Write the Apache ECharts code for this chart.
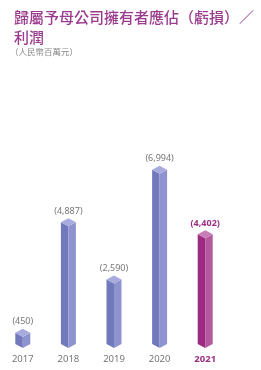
<!DOCTYPE html>
<html>
<head>
<meta charset="utf-8">
<script src="https://cdn.jsdelivr.net/npm/echarts@6/dist/echarts.min.js"></script>
<style>html,body{margin:0;padding:0;background:#fff}#c{width:261px;height:370px}</style>
</head>
<body>
<div id="c"></div>
<script>
var years = ['2017', '2018', '2019', '2020', '2021'];
var values = [450, 4887, 2590, 6994, 4402];
var valueLabels = ['(450)', '(4,887)', '(2,590)', '(6,994)', '(4,402)'];
var highlightIndex = 4;

var blue = {left: '#7178bb', right: '#8e93cf', top: '#a7abdd'};
var mag = {left: '#9c2a80', right: '#b4599d', top: '#c77db6'};

var chart = echarts.init(document.getElementById('c'), null, {renderer: 'canvas'});
var font = '"Noto Sans", "Noto Sans CJK TC", sans-serif';
chart.setOption({
  animation: false,
  title: [{
    text: '歸屬予母公司擁有者應佔（虧損）／\n利潤',
    left: 9, top: 2,
    textStyle: {fontFamily: '"Noto Sans CJK TC"', fontSize: 15, fontWeight: 500, color: '#9b3b8e', lineHeight: 20}
  }, {
    text: '（人民幣百萬元）',
    left: 5, top: 43,
    textStyle: {fontFamily: '"Noto Sans CJK TC"', fontSize: 8.5, fontWeight: 'normal', color: '#8a8a8a'}
  }],
  grid: {left: 0, right: 33, top: 144.6, bottom: 26},
  xAxis: {
    type: 'category', data: years,
    axisLine: {show: false}, axisTick: {show: false},
    axisLabel: {
      interval: 0, margin: 11, fontSize: 9.5, fontFamily: font, color: '#777',
      formatter: function (v, i) { return i === highlightIndex ? '{h|' + v + '}' : v; },
      rich: {h: {fontSize: 9.5, fontFamily: font, fontWeight: 'bold', color: '#9b2f83'}}
    }
  },
  yAxis: {type: 'value', min: 0, max: 8000, show: false, splitLine: {show: false}},
  series: [{
    type: 'custom',
    data: values.map(function (v, i) { return [i, v]; }),
    renderItem: function (params, api) {
      var i = api.value(0);
      var top = api.coord([i, api.value(1)]);
      var base = api.coord([i, 0]);
      var cx = top[0], ty = top[1], by = base[1];
      var w = 7.5, dy = 4;
      var c = i === highlightIndex ? mag : blue;
      var hl = i === highlightIndex;
      return {
        type: 'group',
        children: [
          {type: 'polygon', shape: {points: [[cx - w, ty], [cx, ty + dy], [cx, by + dy], [cx - w, by]]}, style: {fill: c.left}},
          {type: 'polygon', shape: {points: [[cx, ty + dy], [cx + w, ty], [cx + w, by], [cx, by + dy]]}, style: {fill: c.right}},
          {type: 'polygon', shape: {points: [[cx, ty - dy], [cx + w, ty], [cx, ty + dy], [cx - w, ty]]}, style: {fill: c.top}},
          {type: 'text', style: {
            text: valueLabels[i], x: cx, y: ty - dy - 7, align: 'center', verticalAlign: 'middle',
            fontSize: 9, fontFamily: font, fontWeight: hl ? 'bold' : 'normal', fill: hl ? '#9b2f83' : '#777'
          }}
        ]
      };
    }
  }]
});
</script>
</body>
</html>
